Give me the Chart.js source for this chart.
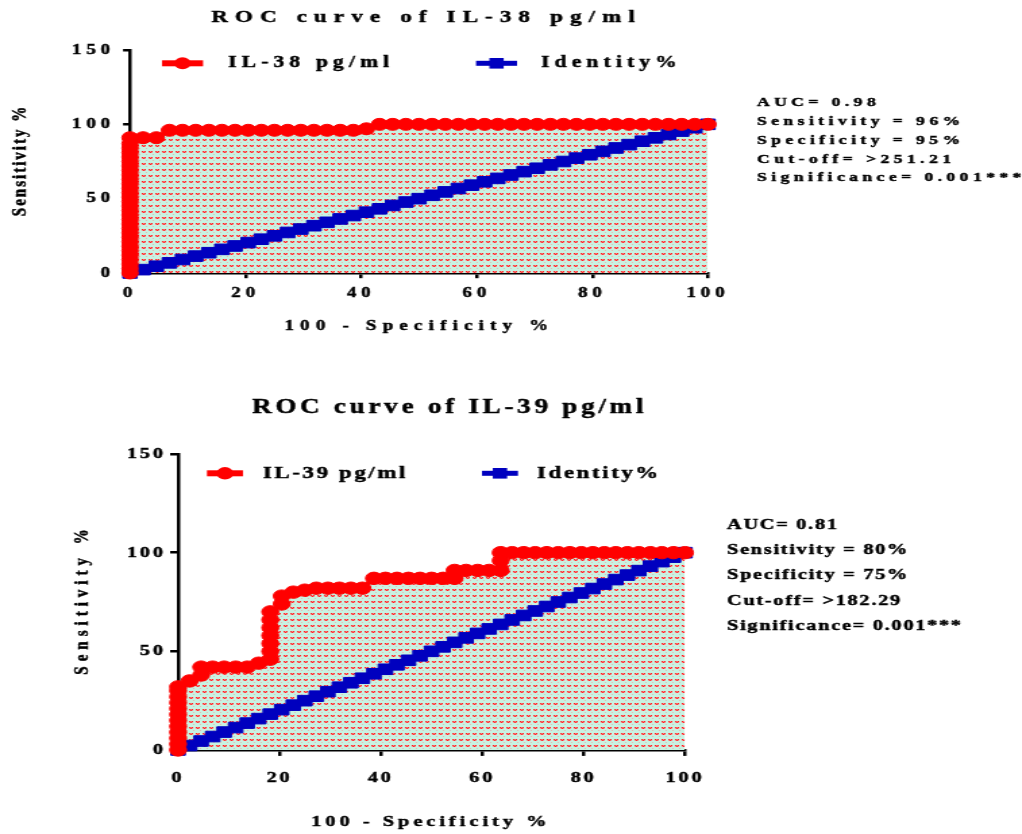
<!DOCTYPE html>
<html>
<head>
<meta charset="utf-8">
<title>ROC curves IL-38 / IL-39</title>
<script src="https://cdn.jsdelivr.net/npm/chart.js@4.4.1/dist/chart.umd.min.js"></script>
<style>
  html, body { margin: 0; padding: 0; background: #fff; overflow: hidden; }
  /* the original figure is stretched sideways, so draw narrow and widen */
  .stretch { position: absolute; left: 0; transform: scaleX(1.35); transform-origin: 0 0; }
  #roc38 { top: 0; }
  #roc39 { top: 390px; }
</style>
</head>
<body>
<canvas id="roc38" class="stretch" width="757" height="390"></canvas>
<canvas id="roc39" class="stretch" width="757" height="444"></canvas>
<script>
// ROC points: 100 - specificity % (x) and sensitivity % (y)
const il38Fpr = [0, 0, 0, 0, 0, 0, 0, 0, 0, 0, 0, 0, 0, 0, 0, 0, 0, 0, 0, 0, 0, 0, 0, 0, 0, 0, 0, 0, 0, 0, 0,
  2.27, 4.55, 6.82, 9.09, 11.36, 13.64, 15.91, 18.18, 20.45, 22.73, 25, 27.27, 29.55, 31.82, 34.09, 36.36, 38.64,
  40.91, 43.18, 45.45, 47.73, 50, 52.27, 54.55, 56.82, 59.09, 61.36, 63.64, 65.91, 68.18, 70.45, 72.73, 75,
  77.27, 79.55, 81.82, 84.09, 86.36, 88.64, 90.91, 93.18, 95.45, 97.73, 100];
const il38Tpr = [0, 3, 6, 9, 12, 15, 18, 21, 24, 27, 30, 33, 36, 39, 42, 45, 48, 51, 54, 57, 60, 63, 66, 69, 72, 75, 78, 81, 84, 87, 91,
  91, 91, 96, 96, 96, 96, 96, 96, 96, 96, 96, 96, 96, 96, 96, 96, 96,
  97, 100, 100, 100, 100, 100, 100, 100, 100, 100, 100, 100, 100, 100, 100, 100,
  100, 100, 100, 100, 100, 100, 100, 100, 100, 100, 100];

const il39Fpr = [0, 0, 0, 0, 0, 0, 0, 0, 0, 0, 0, 0,
  2.27, 4.55, 4.55, 6.82, 9.09, 11.36, 13.64, 15.91,
  18.18, 18.18, 18.18, 18.18, 18.18, 18.18, 18.18, 20.45, 20.45,
  22.73, 25, 27.27, 29.55, 31.82, 34.09, 36.36,
  38.64, 40.91, 43.18, 45.45, 47.73, 50, 52.27, 54.55,
  54.55, 56.82, 59.09, 61.36, 63.64, 63.64, 63.64,
  65.91, 68.18, 70.45, 72.73, 75, 77.27, 79.55, 81.82, 84.09, 86.36, 88.64, 90.91, 93.18, 95.45, 97.73, 100];
const il39Tpr = [0, 3, 6, 9, 12, 15, 18, 21, 24, 27, 30, 32,
  35, 38, 42, 42, 42, 42, 42, 44,
  46, 50, 54, 58, 62, 66, 70, 74, 78,
  80, 81, 82, 82, 82, 82, 82,
  87, 87, 87, 87, 87, 87, 87, 87,
  91, 91, 91, 91, 91, 96, 100,
  100, 100, 100, 100, 100, 100, 100, 100, 100, 100, 100, 100, 100, 100, 100, 100];

// identity (chance) line, same x steps as the curves
const identityPct = [0, 2.27, 4.55, 6.82, 9.09, 11.36, 13.64, 15.91, 18.18, 20.45, 22.73, 25, 27.27, 29.55,
  31.82, 34.09, 36.36, 38.64, 40.91, 43.18, 45.45, 47.73, 50, 52.27, 54.55, 56.82, 59.09, 61.36, 63.64,
  65.91, 68.18, 70.45, 72.73, 75, 77.27, 79.55, 81.82, 84.09, 86.36, 88.64, 90.91, 93.18, 95.45, 97.73, 100];

const xTicks = [0, 20, 40, 60, 80, 100];
const yTicks = [0, 50, 100, 150];

const il38Stats = ['AUC= 0.98', 'Sensitivity = 96%', 'Specificity = 95%', 'Cut-off= >251.21', 'Significance= 0.001***'];
const il39Stats = ['AUC= 0.81', 'Sensitivity = 80%', 'Specificity = 75%', 'Cut-off= >182.29', 'Significance= 0.001***'];

const serif = "'Liberation Serif', 'Times New Roman', serif";
const RED = '#ff0000';
const BLUE = '#0000bf';
const INK = 0.45; // extra stroke so the text looks as heavy as the scan

// mint background with little red ticks, like the shaded AUC area
function aucPattern() {
    const tile = document.createElement('canvas');
    tile.width = 5;
    tile.height = 6;
    const t = tile.getContext('2d');
    t.fillStyle = '#c8f2e2';
    t.fillRect(0, 0, 5, 6);
    t.fillStyle = '#ff2020';
    t.fillRect(0, 1, 1, 1);
    t.fillRect(2, 1, 1, 1);
    t.fillRect(1, 2, 1, 1);
    t.fillStyle = '#f58c8c';
    t.fillRect(1, 1, 1, 1);
    t.fillRect(0, 2, 1, 1);
    t.fillRect(2, 2, 1, 1);
    t.fillStyle = '#eab8b4';
    t.fillRect(3, 4, 1, 1);
    return t.createPattern(tile, 'repeat');
}

function spacedText(ctx, text, x, y, size, spacing, align) {
    ctx.save();
    ctx.font = 'bold ' + size + 'px ' + serif;
    ctx.letterSpacing = spacing + 'px';
    ctx.fillStyle = '#000';
    ctx.strokeStyle = '#000';
    ctx.lineWidth = INK;
    ctx.textAlign = align;
    ctx.textBaseline = 'middle';
    // canvas adds spacing after the last glyph too, so shift centred text back
    const shift = align === 'center' ? spacing / 2 : 0;
    ctx.fillText(text, x + shift, y);
    ctx.strokeText(text, x + shift, y);
    ctx.restore();
}

function legendSample(ctx, x0, x1, y, color, style, r, lw) {
    ctx.save();
    ctx.strokeStyle = color;
    ctx.fillStyle = color;
    ctx.lineWidth = lw;
    ctx.beginPath();
    ctx.moveTo(x0, y);
    ctx.lineTo(x1, y);
    ctx.stroke();
    const cx = (x0 + x1) / 2;
    ctx.beginPath();
    if (style === 'circle') {
        ctx.arc(cx, y, r, 0, Math.PI * 2);
    } else {
        const h = r * Math.SQRT1_2;
        ctx.rect(cx - h, y - h, 2 * h, 2 * h);
    }
    ctx.fill();
    ctx.restore();
}

// titles, legend and the stats block are drawn around the chart area
function rocDecor(g) {
    return {
        id: 'rocDecor',
        beforeDraw(chart) {
            chart.ctx.letterSpacing = g.tickSpacing + 'px';
        },
        afterDraw(chart) {
            const ctx = chart.ctx;
            const a = chart.chartArea;
            const midX = (a.left + a.right) / 2;
            const midY = (a.top + a.bottom) / 2;

            spacedText(ctx, g.title, midX + g.titleShift, a.top - g.titleGap, g.titleSize, g.titleSpacing, 'center');
            spacedText(ctx, '100 - Specificity %', midX + g.xTitleShift, a.bottom + g.xTitleGap, g.xTitleSize, g.xTitleSpacing, 'center');

            ctx.save();
            ctx.translate(a.left - g.yTitleGap, midY);
            ctx.rotate(-Math.PI / 2);
            spacedText(ctx, 'Sensitivity %', 0, 0, g.yTitleSize, g.yTitleSpacing, 'center');
            ctx.restore();

            const ly = a.top + g.legendY;
            legendSample(ctx, a.left + g.leg1[0], a.left + g.leg1[1], ly, RED, 'circle', g.redRadius, 6);
            spacedText(ctx, g.seriesName, a.left + g.leg1[2], ly, g.legendSize, g.legendSpacing, 'left');
            legendSample(ctx, a.left + g.leg2[0], a.left + g.leg2[1], ly, BLUE, 'rect', g.blueRadius, 5);
            spacedText(ctx, 'Identity%', a.left + g.leg2[2], ly, g.legendSize, g.legendSpacing, 'left');

            g.stats.forEach((line, i) => {
                spacedText(ctx, line, a.right + g.statsX, a.top + g.statsY + i * g.statsStep, g.statsSize, g.statsSpacing, 'left');
            });
        }
    };
}

function buildRoc(canvasId, fpr, tpr, g) {
    const curve = fpr.map((x, i) => ({ x: x, y: tpr[i] }));
    const identity = identityPct.map(v => ({ x: v, y: v }));
    const tickFont = { family: serif, size: g.tickSize, weight: 'bold' };

    return new Chart(document.getElementById(canvasId), {
        type: 'line',
        data: {
            datasets: [{
                label: g.seriesName,
                data: curve,
                borderColor: RED,
                backgroundColor: aucPattern(),
                fill: 'origin',
                borderWidth: 4,
                pointStyle: 'circle',
                pointRadius: g.redRadius,
                pointBackgroundColor: RED,
                pointBorderColor: RED,
                pointBorderWidth: 1,
                tension: 0,
                clip: false
            }, {
                label: 'Identity%',
                data: identity,
                borderColor: BLUE,
                backgroundColor: BLUE,
                fill: false,
                borderWidth: 4,
                pointStyle: 'rect',
                pointRadius: g.blueRadius,
                pointBackgroundColor: BLUE,
                pointBorderColor: BLUE,
                pointBorderWidth: 1,
                tension: 0,
                clip: false
            }]
        },
        options: {
            responsive: false,
            animation: false,
            events: [],
            layout: { padding: { top: g.padTop, right: g.padRight, left: 0, bottom: 0 } },
            plugins: {
                legend: { display: false },
                tooltip: { enabled: false },
                title: { display: false },
                filler: { drawTime: 'beforeDatasetsDraw' }
            },
            scales: {
                x: {
                    type: 'linear',
                    min: xTicks[0],
                    max: xTicks[xTicks.length - 1],
                    afterBuildTicks: s => { s.ticks = xTicks.map(v => ({ value: v })); },
                    afterFit: s => { s.height = g.xAxisHeight; },
                    border: { display: true, color: '#000', width: 2.5 },
                    grid: { drawOnChartArea: false, drawTicks: true, tickLength: g.tickLength, color: '#000', lineWidth: 2.5 },
                    ticks: { color: '#000', font: tickFont, padding: g.xTickPad, maxRotation: 0, autoSkip: false,
                             textStrokeColor: '#000', textStrokeWidth: INK }
                },
                y: {
                    type: 'linear',
                    min: yTicks[0],
                    max: yTicks[yTicks.length - 1],
                    afterBuildTicks: s => { s.ticks = yTicks.map(v => ({ value: v })); },
                    afterFit: s => { s.width = g.yAxisWidth; },
                    border: { display: true, color: '#000', width: 2.5 },
                    grid: { drawOnChartArea: false, drawTicks: true, tickLength: g.tickLength, color: '#000', lineWidth: 2.5 },
                    ticks: { color: '#000', font: tickFont, padding: g.yTickPad, autoSkip: false,
                             textStrokeColor: '#000', textStrokeWidth: INK }
                }
            }
        },
        plugins: [rocDecor(g)]
    });
}

buildRoc('roc38', il38Fpr, il38Tpr, {
    seriesName: 'IL-38 pg/ml',
    title: 'ROC curve of IL-38 pg/ml',
    stats: il38Stats,
    padTop: 50, padRight: 232.6, yAxisWidth: 96.3, xAxisHeight: 117,
    tickSize: 14, tickSpacing: 3.6, tickLength: 5.2, xTickPad: 6.5, yTickPad: 6,
    titleSize: 17, titleSpacing: 5.3, titleGap: 32, titleShift: 3,
    xTitleSize: 14, xTitleSpacing: 4.6, xTitleGap: 53, xTitleShift: -2,
    yTitleSize: 15, yTitleSpacing: 2, yTitleGap: 81.5,
    legendY: 13.3, legendSize: 16, legendSpacing: 3.8,
    leg1: [23.7, 54.1, 72.6], leg2: [256.3, 286.7, 304.4],
    statsX: 36.3, statsY: 53, statsStep: 18.75, statsSize: 13, statsSpacing: 3.3,
    redRadius: 6, blueRadius: 7.5
});

buildRoc('roc39', il39Fpr, il39Tpr, {
    seriesName: 'IL-39 pg/ml',
    title: 'ROC curve of IL-39 pg/ml',
    stats: il39Stats,
    padTop: 64, padRight: 249.6, yAxisWidth: 131.9, xAxisHeight: 84,
    tickSize: 15, tickSpacing: 2.1, tickLength: 5.9, xTickPad: 13.5, yTickPad: 3.2,
    titleSize: 20, titleSpacing: 2.8, titleGap: 46, titleShift: 12,
    xTitleSize: 15, xTitleSpacing: 3, xTitleGap: 72, xTitleShift: -2,
    yTitleSize: 15, yTitleSpacing: 5, yTitleGap: 71.2,
    legendY: 19.3, legendSize: 17, legendSpacing: 1.9,
    leg1: [21.4, 48.1, 62.9], leg2: [225.1, 251.8, 265.9],
    statsX: 31.1, statsY: 71, statsStep: 25.25, statsSize: 15, statsSpacing: 1.3,
    redRadius: 6.2, blueRadius: 7.5
});
</script>
</body>
</html>
